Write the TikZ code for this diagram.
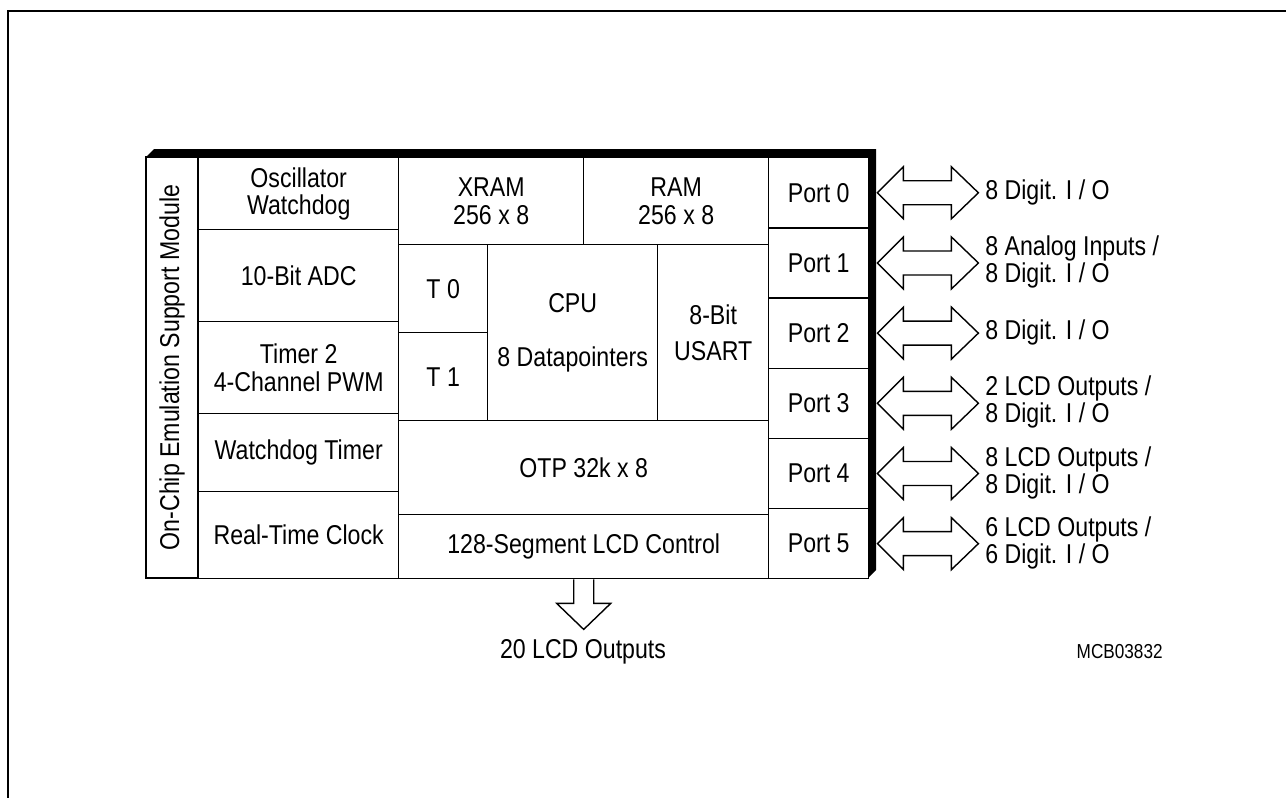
\documentclass[tikz,border=0pt]{standalone}
\usepackage{fontspec}
\setmainfont{Liberation Sans}[FakeStretch=0.85]
\usetikzlibrary{positioning,calc}

\newlength\unitpx
\setlength\unitpx{0.02cm}

\begin{document}
\begin{tikzpicture}[
    x=0.02cm, y=-0.02cm,
    block/.style={rectangle, draw, line width=0.8pt, inner sep=0pt, anchor=north west, align=center,
        font=\fontsize{15.5}{15.5}\selectfont},
    cell/.style 2 args={minimum width=#1\unitpx, minimum height=#2\unitpx},
    iolabel/.style={anchor=west, inner sep=0pt, align=left, font=\fontsize{15.5}{15}\selectfont},
    hollow/.style={draw, line width=0.8pt, fill=white, line join=miter}
]
    \useasboundingbox (0,0) rectangle (1286,798);
    \draw[line width=1.7pt] (8,798) -- (8,11) -- (1286,11);

    % 3d edge of the chip
    \fill (146,157) -- (154,149) -- (876,149) -- (876,570) -- (868,578) -- (868,157) -- cycle;

    \node[block, cell={421}{52}, anchor=center, rotate=90, fill=white] (emu) at (172,367.5) {On-Chip Emulation Support Module};

    \node[block, cell={200}{72}, fill=white] (osc) at (198,157) {Oscillator\\Watchdog};
    \node[block, cell={200}{92}] (adc) at (198,229) {10-Bit ADC};
    \node[block, cell={200}{92}] (tim) at (198,321) {Timer 2\\4-Channel PWM};
    \node[block, cell={200}{78}] (wdt) at (198,413) {Watchdog Timer};
    \node[block, cell={200}{87}] (rtc) at (198,491) {Real-Time Clock};

    \node[block, cell={185}{87}, fill=white] (xram) at (398,157) {XRAM\\256 x 8};
    \node[block, cell={185}{87}, fill=white] (ram) at (583,157) {RAM\\256 x 8};
    \node[block, cell={89}{88}] (t0) at (398,244) {T 0};
    \node[block, cell={89}{88}] (t1) at (398,332) {T 1};
    \node[block, cell={170}{176}] (cpu) at (487,244) {CPU\\[0.55cm]8 Datapointers};
    \node[block, cell={111}{176}] (usart) at (657,244) {8-Bit\\[4.5pt]USART};
    \node[block, cell={370}{94}] (otp) at (398,420) {OTP 32k x 8};
    \node[block, cell={370}{64}] (lcd) at (398,514) {128-Segment LCD Control};

    % ports
    \foreach \i in {0,...,5}
        \node[block, cell={100}{70.17}, fill=white] (p\i) at (768,{157+70.17*\i}) {Port \i};

    \node[iolabel] (l0) at (985,192) {8 Digit. I / O};
    \node[iolabel] (l1) at (985,262) {8 Analog Inputs /\\8 Digit. I / O};
    \node[iolabel] (l2) at (985,332) {8 Digit. I / O};
    \node[iolabel] (l3) at (985,402) {2 LCD Outputs /\\8 Digit. I / O};
    \node[iolabel] (l4) at (985,473) {8 LCD Outputs /\\8 Digit. I / O};
    \node[iolabel] (l5) at (985,543) {6 LCD Outputs /\\6 Digit. I / O};

    \foreach \i in {0,...,5}
        \draw[hollow] ($(p\i.east)+(8,0)$) -- ++(26,-26) -- ++(0,14) -- ++(48,0) -- ++(0,-14)
            -- ++(27,26) -- ++(-27,26) -- ++(0,-14) -- ++(-48,0) -- ++(0,14) -- cycle;

    \node[iolabel, anchor=center] (lcdout) at (583,652) {20 LCD Outputs};
    \draw[hollow] ($(lcd.south)+(-10,0)$) -- ++(0,24) -- ++(-17,0) -- ++(27,26) -- ++(27,-26)
        -- ++(-17,0) -- ++(0,-24);

    \node[anchor=east, inner sep=0pt, font=\fontsize{11.5}{12}\selectfont] (code) at (1163,652) {MCB03832};
\end{tikzpicture}
\end{document}
